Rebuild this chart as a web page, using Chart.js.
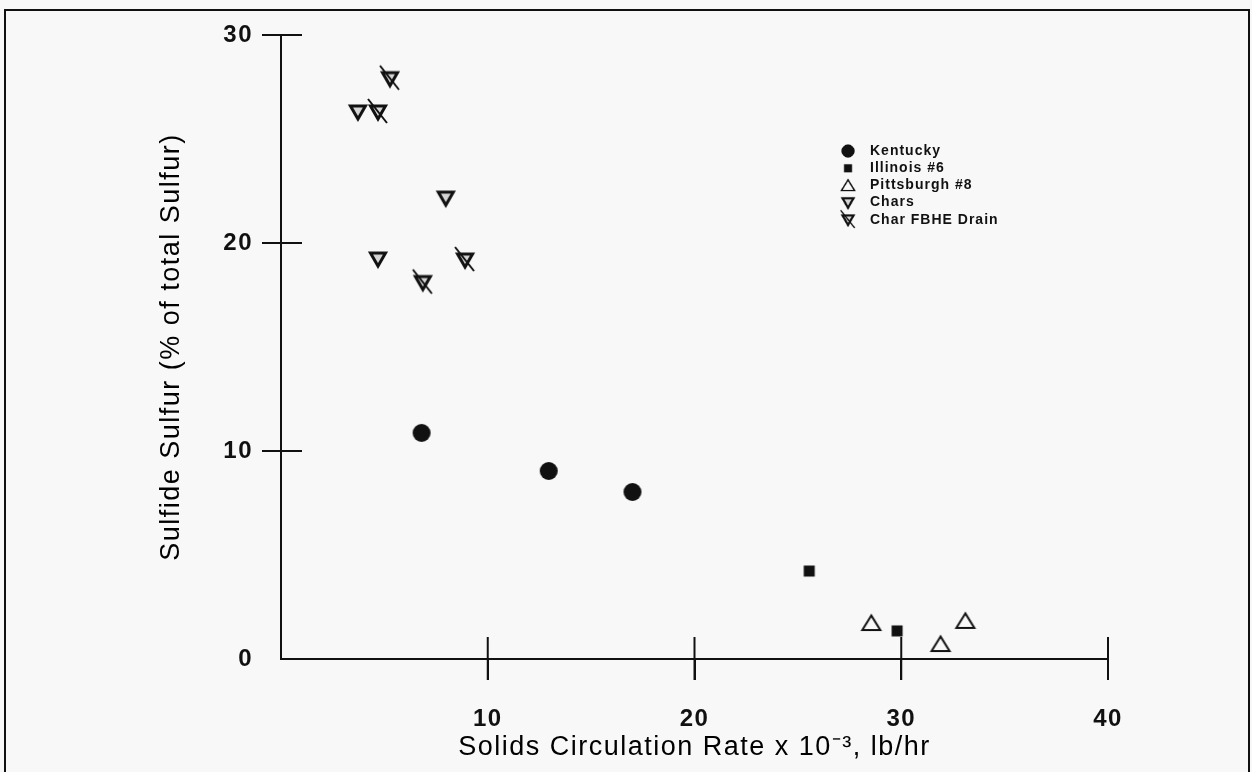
<!DOCTYPE html>
<html>
<head>
<meta charset="utf-8">
<script src="https://cdn.jsdelivr.net/npm/chart.js@4"></script>
<style>
  html, body { margin: 0; background: #f8f8f8; }
  #wrap { width: 1252px; height: 772px; position: relative; }
</style>
</head>
<body>
<div id="wrap"><canvas id="myChart"></canvas></div>
<script>
  // data
  const kentuckyX = [6.8, 12.95, 17.0];
  const kentuckyY = [10.87, 9.04, 8.03];
  const illinoisX = [25.55, 29.8];
  const illinoisY = [4.23, 1.35];
  const pittsburghX = [28.55, 31.9, 33.1];
  const pittsburghY = [1.73, 0.72, 1.83];
  const charsX = [3.72, 7.97, 4.69];
  const charsY = [26.3, 22.16, 19.23];
  const drainX = [5.27, 4.69, 8.9, 6.86];
  const drainY = [27.9, 26.3, 19.18, 18.1];
  const seriesNames = ['Kentucky', 'Illinois #6', 'Pittsburgh #8', 'Chars', 'Char FBHE Drain'];
  const xTicks = [10, 20, 30, 40];
  const yTicks = [0, 10, 20, 30];

  const ink = '#111';

  function marker(kind) {
    const c = document.createElement('canvas');
    c.width = 30; c.height = 30;
    const g = c.getContext('2d');
    g.strokeStyle = ink; g.fillStyle = ink; g.lineJoin = 'miter';
    if (kind === 'circle') {
      g.beginPath(); g.arc(15, 15, 9, 0, Math.PI * 2); g.fill();
    } else if (kind === 'square') {
      g.fillRect(9.5, 9.5, 11, 11);
    } else if (kind === 'up') {
      g.lineWidth = 2;
      g.beginPath(); g.moveTo(15, 7.5); g.lineTo(6, 22); g.lineTo(24, 22); g.closePath(); g.stroke();
    } else {
      g.lineWidth = 3;
      g.fillStyle = '#d6d6d6';
      g.beginPath(); g.moveTo(7.5, 9); g.lineTo(22.5, 9); g.lineTo(15, 22); g.closePath();
      g.fill(); g.stroke();
      if (kind === 'drain') {
        g.lineWidth = 2;
        g.beginPath(); g.moveTo(5, 2); g.lineTo(24, 26); g.stroke();
      }
    }
    return c;
  }

  const styles = [marker('circle'), marker('square'), marker('up'), marker('down'), marker('drain')];

  function pts(xs, ys) { return xs.map((x, i) => ({ x: x, y: ys[i] })); }

  const framePlugin = {
    id: 'frame',
    beforeDraw(chart) {
      chart.ctx.letterSpacing = '1.5px';
    },
    afterDraw(chart) {
      const ctx = chart.ctx;
      const xs = chart.scales.x, ys = chart.scales.y;
      const area = chart.chartArea;
      ctx.save();
      ctx.strokeStyle = ink;
      ctx.lineWidth = 2;
      // ticks that cross the axes
      ctx.beginPath();
      xTicks.forEach(v => {
        const p = xs.getPixelForValue(v);
        ctx.moveTo(p, area.bottom + 21); ctx.lineTo(p, area.bottom - 22);
      });
      yTicks.forEach(v => {
        if (v === 0) return;
        const p = ys.getPixelForValue(v);
        ctx.moveTo(area.left, p); ctx.lineTo(area.left + 21, p);
      });
      ctx.stroke();
      // page frame
      ctx.beginPath();
      ctx.moveTo(5, 772); ctx.lineTo(5, 10); ctx.lineTo(1249, 10); ctx.lineTo(1249, 772);
      ctx.stroke();
      // legend
      ctx.fillStyle = ink;
      ctx.font = 'bold 14px "Liberation Sans", Arial, sans-serif';
      ctx.textBaseline = 'middle';
      ctx.letterSpacing = '1px';
      seriesNames.forEach((name, i) => {
        const y = 151 + i * 17.2;
        ctx.drawImage(styles[i], 848 - 11, y - 11, 22, 22);
        ctx.fillText(name, 870, y);
      });
      ctx.restore();
    }
  };

  const ctx = document.getElementById('myChart').getContext('2d');
  const font = { family: '"Liberation Sans", Arial, sans-serif' };

  const myChart = new Chart(ctx, {
    type: 'scatter',
    data: {
      datasets: [
        { label: seriesNames[0], data: pts(kentuckyX, kentuckyY), pointStyle: styles[0] },
        { label: seriesNames[1], data: pts(illinoisX, illinoisY), pointStyle: styles[1] },
        { label: seriesNames[2], data: pts(pittsburghX, pittsburghY), pointStyle: styles[2] },
        { label: seriesNames[3], data: pts(charsX, charsY), pointStyle: styles[3] },
        { label: seriesNames[4], data: pts(drainX, drainY), pointStyle: styles[4] }
      ]
    },
    options: {
      responsive: true,
      maintainAspectRatio: false,
      animation: false,
      layout: { padding: { left: 155, top: 35, right: 144, bottom: 8 } },
      plugins: {
        legend: { display: false },
        tooltip: { enabled: false }
      },
      elements: { point: { radius: 9 } },
      scales: {
        x: {
          type: 'linear',
          min: 0, max: 40,
          afterBuildTicks: s => { s.ticks = xTicks.map(v => ({ value: v })); },
          afterFit: s => { s.height = 772 - 8 - 659; },
          ticks: { color: ink, padding: 25, font: { ...font, size: 24, weight: 'bold' } },
          grid: { drawOnChartArea: false, drawTicks: true, tickLength: 21, color: ink, lineWidth: 2 },
          border: { color: ink, width: 2 },
          title: {
            display: true,
            text: 'Solids Circulation Rate x 10\u207B\u00B3, lb/hr',
            color: '#000',
            padding: 0,
            font: { ...font, size: 27 }
          }
        },
        y: {
          type: 'linear',
          min: 0, max: 30,
          afterBuildTicks: s => { s.ticks = yTicks.map(v => ({ value: v })); },
          afterFit: s => { s.width = 281 - 155; },
          ticks: { color: ink, padding: 9, font: { ...font, size: 24, weight: 'bold' } },
          grid: {
            drawOnChartArea: false, tickLength: 19, lineWidth: 2,
            color: c => (c.tick && c.tick.value === 0 ? 'rgba(0,0,0,0)' : ink)
          },
          border: { color: ink, width: 2 },
          title: {
            display: true,
            text: 'Sulfide Sulfur (% of total Sulfur)',
            color: '#000',
            padding: 0,
            font: { ...font, size: 27 }
          }
        }
      }
    },
    plugins: [framePlugin]
  });
</script>
</body>
</html>
